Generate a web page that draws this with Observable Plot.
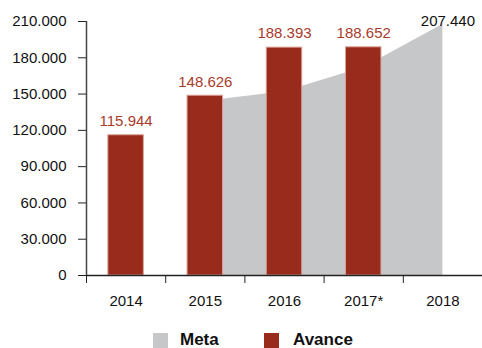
<!DOCTYPE html>
<html><head><meta charset="utf-8">
<script src="https://cdn.jsdelivr.net/npm/d3@7"></script>
<script src="https://cdn.jsdelivr.net/npm/@observablehq/plot@0.6"></script>
<style>
body{margin:0;background:#fff;overflow:hidden;font-family:"Liberation Sans",Arial,sans-serif;}
#legend{position:relative;width:482px;height:30px;}
.sw{position:absolute;top:15px;width:15px;height:15px;}
.lb{position:absolute;top:13px;font-size:17px;line-height:17px;font-weight:bold;color:#111;white-space:nowrap;}
</style></head><body>
<div id="chart"></div>
<div id="legend"></div>
<script>
const years = ["2014","2015","2016","2017*","2018"];
const avance = [115944,148626,188393,188652,null];
const meta = [null,144000,152000,172000,207440];
const yTicks = [0,30000,60000,90000,120000,150000,180000,210000];
const seriesNames = ["Meta","Avance"];
const seriesColors = ["#c6c7c9","#982b1b"];

const fmt = d3.formatLocale({decimal:",", thousands:".", grouping:[3], currency:["",""]}).format(",.0f");
const rows = years.map((y,i)=>({i, year:y, avance:avance[i], meta:meta[i]}));
const barRows = rows.filter(d=>d.avance!=null);
const metaRows = rows.filter(d=>d.meta!=null);
const lastMeta = metaRows.slice(-1);
const half = 0.224;

const chart = Plot.plot({
  width:482, height:318,
  marginLeft:86, marginRight:0, marginTop:21, marginBottom:43,
  style:{fontSize:"15px", fontFamily:'"Liberation Sans",Arial,sans-serif', color:"#111", background:"#fff"},
  x:{type:"linear", domain:[-0.5,4.5], axis:null},
  y:{domain:[0,210000], axis:null},
  marks:[
    Plot.areaY(metaRows,{x:"i", y:"meta", fill:seriesColors[0], curve:"linear"}),
    Plot.rectY(barRows,{x1:d=>d.i-half, x2:d=>d.i+half, y1:0, y2:"avance", fill:seriesColors[1], stroke:"#dba096", strokeWidth:1}),
    Plot.text(barRows,{x:"i", y:"avance", text:d=>fmt(d.avance), dy:-14, fill:"#a93a2c", fontSize:15}),
    Plot.text(lastMeta,{x:"i", y:"meta", text:d=>fmt(d.meta), dy:-3, dx:5, fill:"#111", fontSize:15}),
    Plot.axisY({ticks:yTicks, tickSize:8, tickPadding:12, tickFormat:fmt, label:null, stroke:"#222", fontSize:15}),
    Plot.axisX({ticks:[-0.5,0.5,1.5,2.5,3.5], tickSize:8, tickFormat:()=>"", label:null, stroke:"#222"}),
    Plot.axisX({ticks:[0,1,2,3,4], tickSize:0, tickPadding:20, tickFormat:i=>years[i], label:null, fontSize:15}),
    Plot.ruleY([0],{stroke:"#222", strokeWidth:1.5}),
    Plot.ruleX([-0.5],{y1:0, y2:210000, stroke:"#444", strokeWidth:1.5})
  ]
});
document.getElementById("chart").appendChild(chart);

const legend = document.getElementById("legend");
const pos = [[153,180],[264,293]];
seriesNames.forEach((n,k)=>{
  const s = document.createElement("div"); s.className="sw"; s.style.left=pos[k][0]+"px"; s.style.background=seriesColors[k];
  const t = document.createElement("div"); t.className="lb"; t.style.left=pos[k][1]+"px"; t.textContent=n;
  legend.appendChild(s); legend.appendChild(t);
});
</script>
</body></html>
